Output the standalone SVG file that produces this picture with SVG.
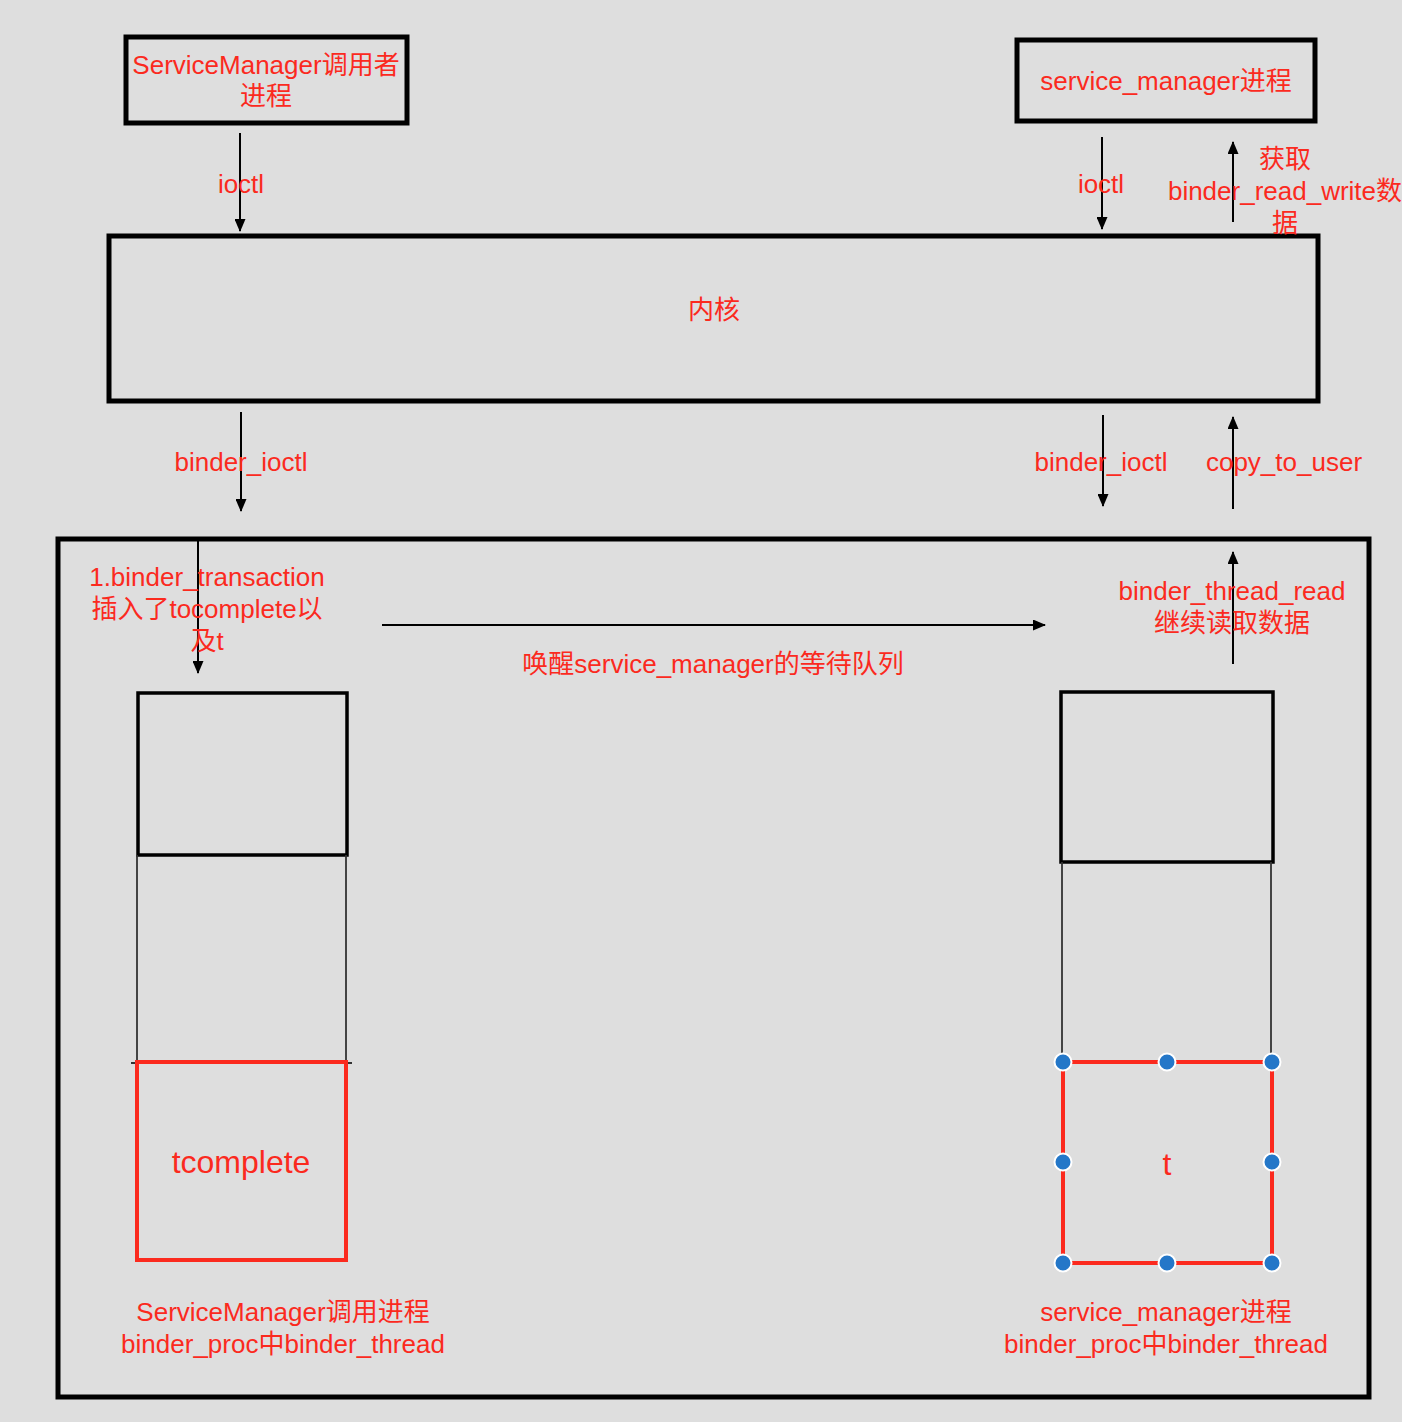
<svg xmlns="http://www.w3.org/2000/svg" width="1402" height="1422" viewBox="0 0 1402 1422">
<style>
.bg{fill:#dedede}
.box{fill:none;stroke:#000;stroke-width:5}
.sub{fill:none;stroke:#000;stroke-width:3.5}
.thin{fill:none;stroke:#333;stroke-width:1.8}
.red{fill:none;stroke:#fb2a1e;stroke-width:4}
.lbl{fill:#fb2a1e;font-family:"Liberation Sans","Noto Sans CJK SC",sans-serif;font-size:26px;text-anchor:middle}
.big{font-size:32px}
.arr{stroke:#000;stroke-width:2;fill:none;marker-end:url(#ah)}
.hd{fill:#2477c8;stroke:#fff;stroke-width:2}
</style>
<defs>
<marker id="ah" markerUnits="userSpaceOnUse" markerWidth="13" markerHeight="11" refX="12" refY="5.5" orient="auto">
<path d="M0,0 L13,5.5 L0,11 z" fill="#000"/>
</marker>
</defs>
<rect class="bg" x="0" y="0" width="1402" height="1422"/>

<g id="caller">
<rect class="box" x="126" y="37" width="281" height="86"/>
<text class="lbl" x="266" y="74">ServiceManager调用者</text>
<text class="lbl" x="266" y="105">进程</text>
</g>

<g id="sm">
<rect class="box" x="1017" y="40" width="298" height="81"/>
<text class="lbl" x="1166" y="90">service_manager进程</text>
</g>

<g id="kernel">
<rect class="box" x="109" y="236" width="1209" height="165"/>
<text class="lbl" x="714" y="319">内核</text>
</g>

<g id="kernelspace">
<rect class="box" x="58" y="539" width="1311" height="858"/>
</g>

<g id="left-thread">
<rect class="sub" x="138" y="693" width="209" height="162"/>
<line class="thin" x1="137" y1="855" x2="137" y2="1063"/>
<line class="thin" x1="346" y1="855" x2="346" y2="1063"/>
<line class="thin" x1="131" y1="1063" x2="352" y2="1063"/>
</g>

<g id="tcomplete">
<rect class="red" x="137" y="1062" width="209" height="198"/>
<text class="lbl big" x="241" y="1173">tcomplete</text>
</g>

<g id="right-thread">
<rect class="sub" x="1061" y="692" width="212" height="170"/>
<line class="thin" x1="1062" y1="862" x2="1062" y2="1062"/>
<line class="thin" x1="1271" y1="862" x2="1271" y2="1062"/>
</g>

<g id="t">
<rect class="red" x="1063" y="1062" width="209" height="201"/>
<text class="lbl big" x="1167" y="1175">t</text>
<circle class="hd" cx="1063" cy="1062" r="8.5"/>
<circle class="hd" cx="1167" cy="1062" r="8.5"/>
<circle class="hd" cx="1272" cy="1062" r="8.5"/>
<circle class="hd" cx="1063" cy="1162" r="8.5"/>
<circle class="hd" cx="1272" cy="1162" r="8.5"/>
<circle class="hd" cx="1063" cy="1263" r="8.5"/>
<circle class="hd" cx="1167" cy="1263" r="8.5"/>
<circle class="hd" cx="1272" cy="1263" r="8.5"/>
</g>

<g id="connectors">
<line class="arr" x1="240" y1="133" x2="240" y2="231"/>
<line class="arr" x1="1102" y1="137" x2="1102" y2="229"/>
<line class="arr" x1="1233" y1="222" x2="1233" y2="142"/>
<line class="arr" x1="241" y1="412" x2="241" y2="511"/>
<line class="arr" x1="1103" y1="415" x2="1103" y2="506"/>
<line class="arr" x1="1233" y1="509" x2="1233" y2="417"/>
<line class="arr" x1="198" y1="541" x2="198" y2="673"/>
<line class="arr" x1="382" y1="625" x2="1045" y2="625"/>
<line class="arr" x1="1233" y1="664" x2="1233" y2="552"/>
</g>

<g id="labels">
<text class="lbl" x="241" y="193">ioctl</text>
<text class="lbl" x="1101" y="193">ioctl</text>
<text class="lbl" x="1285" y="168">获取</text>
<text class="lbl" x="1285" y="200">binder_read_write数</text>
<text class="lbl" x="1285" y="232">据</text>
<text class="lbl" x="241" y="471">binder_ioctl</text>
<text class="lbl" x="1101" y="471">binder_ioctl</text>
<text class="lbl" x="1284" y="471">copy_to_user</text>
<text class="lbl" x="207" y="586">1.binder_transaction</text>
<text class="lbl" x="207" y="618">插入了tocomplete以</text>
<text class="lbl" x="207" y="650">及t</text>
<text class="lbl" x="713" y="673">唤醒service_manager的等待队列</text>
<text class="lbl" x="1232" y="600">binder_thread_read</text>
<text class="lbl" x="1232" y="632">继续读取数据</text>
<text class="lbl" x="283" y="1321">ServiceManager调用进程</text>
<text class="lbl" x="283" y="1353">binder_proc中binder_thread</text>
<text class="lbl" x="1166" y="1321">service_manager进程</text>
<text class="lbl" x="1166" y="1353">binder_proc中binder_thread</text>
</g>
</svg>
